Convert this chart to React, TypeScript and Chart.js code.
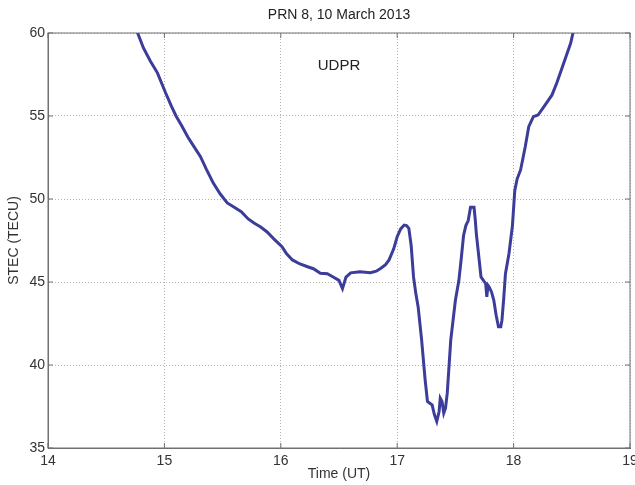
import React, { useEffect, useRef } from "react";
import { Chart, registerables } from "chart.js";

Chart.register(...registerables);

const TITLE = "PRN 8, 10 March 2013";
const X_LABEL = "Time (UT)";
const Y_LABEL = "STEC (TECU)";
const ANNOTATION = "UDPR";
const ANNOTATION_AT = [16.5, 58];

const X_MIN = 14;
const X_MAX = 19;
const Y_MIN = 35;
const Y_MAX = 60;

const times = [
  14.72, 14.77, 14.82, 14.88, 14.94, 15.01, 15.06, 15.1, 15.15, 15.2, 15.25, 15.31, 15.36, 15.42, 15.48,
  15.54, 15.6, 15.66, 15.72, 15.77, 15.83, 15.88, 15.94, 16.01, 16.05, 16.1, 16.16, 16.23, 16.28, 16.34,
  16.4, 16.45, 16.5, 16.53, 16.56, 16.6, 16.68, 16.77, 16.82, 16.86, 16.9, 16.93, 16.97, 17.0, 17.03,
  17.06, 17.08, 17.1, 17.12, 17.14, 17.16, 17.18, 17.21, 17.24, 17.26, 17.28, 17.3, 17.32, 17.34, 17.36,
  17.37, 17.385, 17.4, 17.415, 17.43, 17.46, 17.5, 17.53, 17.55, 17.57, 17.59, 17.61, 17.63, 17.66, 17.67,
  17.68, 17.7, 17.72, 17.73, 17.75, 17.76, 17.77, 17.78, 17.79, 17.81, 17.83, 17.85, 17.87, 17.89, 17.9,
  17.915, 17.93, 17.96, 17.99, 18.01, 18.03, 18.06, 18.1, 18.13, 18.17, 18.21, 18.27, 18.33, 18.37, 18.41,
  18.46, 18.49, 18.51, 18.53,
];

const stec = [
  61.0, 60.0, 59.1, 58.3, 57.6, 56.4, 55.6, 55.0, 54.4, 53.75, 53.2, 52.55, 51.8, 50.96, 50.3,
  49.76, 49.5, 49.24, 48.8, 48.55, 48.3, 48.03, 47.6, 47.13, 46.7, 46.33, 46.1, 45.92, 45.8, 45.52,
  45.5, 45.3, 45.1, 44.6, 45.3, 45.55, 45.62, 45.56, 45.65, 45.83, 46.05, 46.33, 47.0, 47.73, 48.2,
  48.43, 48.4, 48.23, 47.2, 45.32, 44.3, 43.5, 41.5, 39.1, 37.8, 37.7, 37.6, 37.0, 36.6, 37.2,
  38.0, 37.8, 37.1, 37.4, 38.3, 41.5, 43.9, 45.1, 46.4, 47.8, 48.4, 48.7, 49.5, 49.5, 48.8,
  47.9, 46.6, 45.3, 45.2, 45.0, 44.9, 44.1, 44.8, 44.7, 44.4, 43.9, 43.0, 42.3, 42.3, 42.7,
  44.0, 45.5, 46.7, 48.4, 50.5, 51.2, 51.75, 53.15, 54.36, 54.96, 55.06, 55.66, 56.27, 56.97, 57.77,
  58.78, 59.38, 60.0, 60.6,
];

const FONT = "'Liberation Sans', Arial, sans-serif";
const TEXT_COLOR = "#333333";
const LINE_COLOR = "#3c3c9a";

const framePlugin = {
  id: "matlabFrame",
  afterDraw(chart: any) {
    const { ctx, chartArea } = chart;
    const xs = chart.scales.x;
    const ys = chart.scales.y;
    const { left, right, top, bottom } = chartArea;
    ctx.save();
    ctx.strokeStyle = "#707070";
    ctx.lineWidth = 1;
    ctx.setLineDash([]);
    ctx.strokeRect(left, top, right - left, bottom - top);
    const tl = 5;
    ctx.beginPath();
    xs.ticks.forEach((t: any) => {
      const px = xs.getPixelForValue(t.value);
      ctx.moveTo(px, bottom);
      ctx.lineTo(px, bottom - tl);
      ctx.moveTo(px, top);
      ctx.lineTo(px, top + tl);
    });
    ys.ticks.forEach((t: any) => {
      const py = ys.getPixelForValue(t.value);
      ctx.moveTo(left, py);
      ctx.lineTo(left + tl, py);
      ctx.moveTo(right, py);
      ctx.lineTo(right - tl, py);
    });
    ctx.stroke();
    ctx.fillStyle = "#222222";
    ctx.font = `15px ${FONT}`;
    ctx.textAlign = "center";
    ctx.textBaseline = "middle";
    ctx.fillText(
      ANNOTATION,
      xs.getPixelForValue(ANNOTATION_AT[0]),
      ys.getPixelForValue(ANNOTATION_AT[1])
    );
    ctx.restore();
  },
};

export default function App() {
  const canvasRef = useRef<HTMLCanvasElement | null>(null);

  useEffect(() => {
    document.body.style.margin = "0";
    const canvas = canvasRef.current;
    if (!canvas) return;
    const points = times.map((t, i) => ({ x: t, y: stec[i] }));
    const chart = new Chart(canvas, {
      type: "line",
      data: {
        datasets: [
          {
            data: points,
            borderColor: LINE_COLOR,
            borderWidth: 3,
            pointRadius: 0,
            tension: 0,
            fill: false,
            clip: 0,
          } as any,
        ],
      },
      options: {
        animation: false,
        responsive: true,
        maintainAspectRatio: false,
        layout: { padding: { left: 0, right: 5, top: 0, bottom: 0 } },
        plugins: {
          legend: { display: false },
          tooltip: { enabled: false },
          title: {
            display: true,
            text: TITLE,
            fullSize: false,
            color: "#222222",
            font: { family: FONT, size: 14, weight: "normal" },
            padding: { top: 7, bottom: 9.2 },
          },
        },
        scales: {
          x: {
            type: "linear",
            min: X_MIN,
            max: X_MAX,
            afterFit(scale: any) {
              scale.height = 37;
              scale.paddingLeft = 0;
              scale.paddingRight = 0;
            },
            ticks: {
              stepSize: 1,
              color: TEXT_COLOR,
              font: { family: FONT, size: 14 },
              padding: 5,
              maxRotation: 0,
            },
            grid: { color: "#b5b5b5", lineWidth: 1, drawTicks: false },
            border: { display: true, color: "#707070", dash: [1, 2] },
            title: {
              display: true,
              text: X_LABEL,
              color: TEXT_COLOR,
              font: { family: FONT, size: 14 },
              padding: { top: 0, bottom: 2 },
            },
          },
          y: {
            type: "linear",
            min: Y_MIN,
            max: Y_MAX,
            afterFit(scale: any) {
              scale.width = 48;
              scale.paddingTop = 0;
              scale.paddingBottom = 0;
            },
            ticks: {
              stepSize: 5,
              color: TEXT_COLOR,
              font: { family: FONT, size: 14 },
              padding: 3,
            },
            grid: { color: "#b5b5b5", lineWidth: 1, drawTicks: false },
            border: { display: true, color: "#707070", dash: [1, 2] },
            title: {
              display: true,
              text: Y_LABEL,
              color: TEXT_COLOR,
              font: { family: FONT, size: 14 },
              padding: { top: 6, bottom: 0 },
            },
          },
        },
      },
      plugins: [framePlugin],
    });
    return () => chart.destroy();
  }, []);

  return (
    <div style={{ position: "relative", width: "635px", height: "485px" }}>
      <canvas ref={canvasRef} />
    </div>
  );
}
